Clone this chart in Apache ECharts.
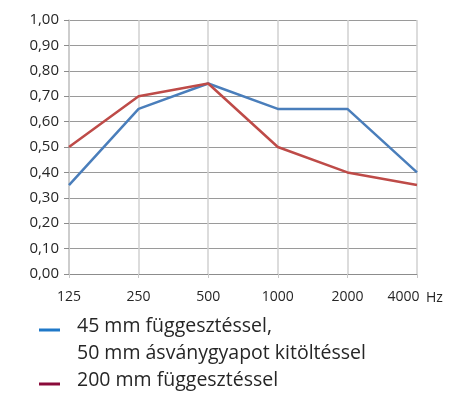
<!DOCTYPE html>
<html><head><meta charset="utf-8">
<script src="https://cdn.jsdelivr.net/npm/echarts@6/dist/echarts.min.js"></script>
<style>html,body{margin:0;padding:0;background:#fff}#c{width:449px;height:398px}</style>
</head><body><div id="c"></div>
<script>
const categories = ['125','250','500','1000','2000','4000'];
const series1Name = '45 mm függesztéssel,';
const series1Name2 = '50 mm ásványgyapot kitöltéssel';
const series2Name = '200 mm függesztéssel';
const series1 = [0.35, 0.65, 0.75, 0.65, 0.65, 0.40];
const series2 = [0.50, 0.70, 0.75, 0.50, 0.40, 0.35];
const unitLabel = 'Hz';

const font = '"Open Sans", "Noto Sans", sans-serif';
const chart = echarts.init(document.getElementById('c'));
chart.setOption({
  animation: false,
  grid: {left: 69, right: 32, top: 20, bottom: 124},
  xAxis: {
    type: 'category', data: categories, boundaryGap: false,
    axisLine: {lineStyle: {color: '#8c8c8c', width: 1}},
    axisTick: {show: true, interval: 0, length: 4, lineStyle: {color: '#c8c8c8'}},
    axisLabel: {interval: 0, hideOverlap: false, color: '#262626', fontSize: 14, fontFamily: font, margin: 16,
      formatter: (v, i) => i === categories.length - 1 ? '{last|' + v + '}' : v,
      rich: {last: {fontSize: 14, fontFamily: font, color: '#262626', padding: [0, 27, 0, 0]}}},
    splitLine: {show: true, interval: 0, lineStyle: {color: '#d0d0d0', width: 1.5}}
  },
  yAxis: {
    type: 'value', min: 0, max: 1, interval: 0.1,
    axisLine: {show: true, lineStyle: {color: '#c8c8c8', width: 1.5}},
    axisTick: {show: true, length: 5, lineStyle: {color: '#8c8c8c'}},
    axisLabel: {color: '#262626', fontSize: 15, fontFamily: font, margin: 10,
      formatter: v => v.toFixed(2).replace('.', ',')},
    splitLine: {show: true, lineStyle: {color: '#9a9a9a', width: 1}}
  },
  series: [
    {name: series1Name, type: 'line', data: series1, symbol: 'none',
      lineStyle: {color: '#4a7ebb', width: 2.5}},
    {name: series2Name, type: 'line', data: series2, symbol: 'none',
      lineStyle: {color: '#be4b48', width: 2.5}}
  ],
  graphic: [
    {type: 'text', left: 426, top: 291, style: {text: unitLabel, fill: '#262626', font: '14px ' + font}},
    {type: 'rect', shape: {x: 39, y: 328.5, width: 21, height: 3}, style: {fill: '#1f78c8'}},
    {type: 'text', left: 77, top: 316, style: {text: series1Name, fill: '#262626', font: '19.5px ' + font}},
    {type: 'text', left: 77, top: 343, style: {text: series1Name2, fill: '#262626', font: '19.5px ' + font}},
    {type: 'rect', shape: {x: 39, y: 382.5, width: 21, height: 3}, style: {fill: '#8a0a3a'}},
    {type: 'text', left: 77, top: 370, style: {text: series2Name, fill: '#262626', font: '19.5px ' + font}}
  ]
});
</script></body></html>
